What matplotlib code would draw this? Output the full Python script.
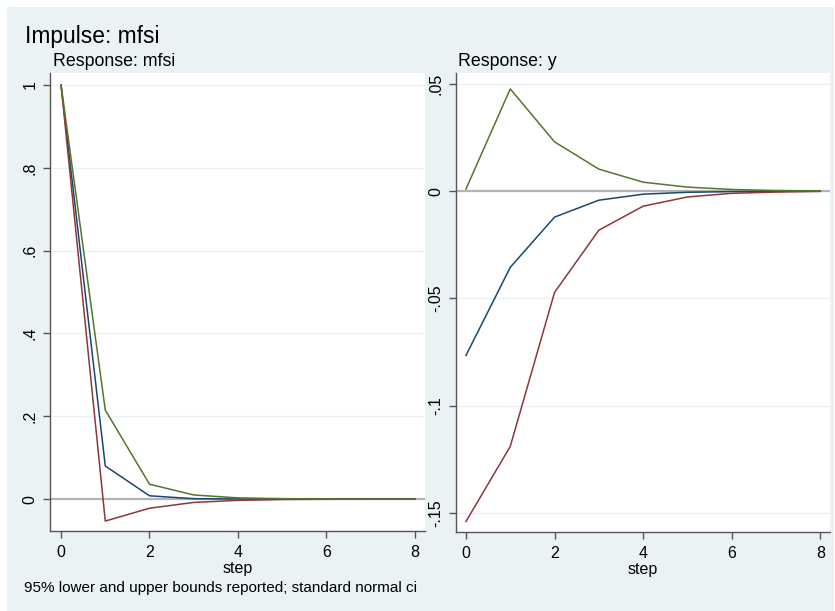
"""Impulse response plot, Stata style"""
import matplotlib

matplotlib.use("Agg")
import matplotlib.pyplot as plt
from matplotlib.patches import Rectangle

plt.rcParams["font.family"] = ["Liberation Sans", "DejaVu Sans"]

STEPS = [0, 1, 2, 3, 4, 5, 6, 7, 8]

# Response: mfsi
MFSI_IRF = [1.0, 0.080, 0.008, 0.001, 0.0003, 0.0001, 0.0, 0.0, 0.0]
MFSI_LOWER = [1.0, -0.053, -0.022, -0.008, -0.003, -0.001, -0.0004, -0.0001, 0.0]
MFSI_UPPER = [1.0, 0.215, 0.036, 0.010, 0.003, 0.001, 0.0004, 0.0001, 0.0]

# Response: y
Y_IRF = [-0.0766, -0.0355, -0.0121, -0.0042, -0.0014, -0.0005, -0.0002, -0.0001, 0.0]
Y_LOWER = [-0.154, -0.119, -0.0472, -0.0182, -0.0070, -0.0027, -0.0010, -0.0004, -0.0001]
Y_UPPER = [0.001, 0.0477, 0.023, 0.0103, 0.0042, 0.0019, 0.0008, 0.0003, 0.0001]

MFSI_TICKS = [0, 0.2, 0.4, 0.6, 0.8, 1.0]
MFSI_LABELS = ["0", ".2", ".4", ".6", ".8", "1"]
Y_TICKS = [-0.15, -0.1, -0.05, 0, 0.05]
Y_LABELS = ["-.15", "-.1", "-.05", "0", ".05"]
X_TICKS = [0, 2, 4, 6, 8]

NAVY = "#1a476f"
MAROON = "#90353b"
GREEN = "#55752f"
BG = "#eaf2f3"

W, H = 835, 611
fig = plt.figure(figsize=(W / 100, H / 100), dpi=100)
fig.patch.set_facecolor("white")
fig.patches.append(Rectangle((7 / W, 0), (834 - 7) / W, (H - 7) / H,
                             transform=fig.transFigure, facecolor=BG,
                             edgecolor="none", zorder=-10))


def make_axes(left, right, top, bottom):
    return fig.add_axes([left / W, (H - bottom) / H, (right - left) / W, (bottom - top) / H])


def style(ax, ticks, labels, ylim):
    ax.set_facecolor("white")
    for side in ["top", "right"]:
        ax.spines[side].set_visible(False)
    for side in ["left", "bottom"]:
        ax.spines[side].set_color("#555555")
        ax.spines[side].set_linewidth(1.0)
    ax.set_yticks(ticks)
    ax.set_yticklabels(labels, rotation=90, va="center")
    ax.set_xticks(X_TICKS)
    ax.tick_params(axis="both", direction="out", length=5, width=1.0,
                   color="#555555", labelsize=11.5, pad=4)
    ax.tick_params(axis="x", pad=5)
    ax.yaxis.grid(True, color=BG, linewidth=1.0)
    ax.set_axisbelow(True)
    ax.set_ylim(ylim)
    ax.set_xlim(-0.25, 8.23)
    ax.axhline(0, color="#b4b4b4", linewidth=1.6, zorder=1)
    ax.set_xlabel("step", fontsize=11.5, labelpad=1)


ax1 = make_axes(50, 425, 73, 531)
ax1.plot(STEPS, MFSI_IRF, color=NAVY, lw=1.1, zorder=3)
ax1.plot(STEPS, MFSI_LOWER, color=MAROON, lw=1.1, zorder=3)
ax1.plot(STEPS, MFSI_UPPER, color=GREEN, lw=1.1, zorder=3)
style(ax1, MFSI_TICKS, MFSI_LABELS, (-0.077, 1.029))

ax2 = make_axes(456, 830, 73, 532)
ax2.plot(STEPS, Y_IRF, color=NAVY, lw=1.1, zorder=3)
ax2.plot(STEPS, Y_LOWER, color=MAROON, lw=1.1, zorder=3)
ax2.plot(STEPS, Y_UPPER, color=GREEN, lw=1.1, zorder=3)
style(ax2, Y_TICKS, Y_LABELS, (-0.1589, 0.0551))
ax2.set_xlim(-0.225, 8.22)

fig.text(25 / W, 1 - 36 / H, "Impulse: mfsi", fontsize=16.4, va="center", ha="left")
fig.text(53 / W, 1 - 62 / H, "Response: mfsi", fontsize=12.8, va="center", ha="left")
fig.text(458 / W, 1 - 62 / H, "Response: y", fontsize=12.8, va="center", ha="left")
fig.text(24 / W, 1 - 588 / H, "95% lower and upper bounds reported; standard normal ci",
         fontsize=11, va="center", ha="left")

fig.savefig("out.png", dpi=100)
print("Saved out.png")
